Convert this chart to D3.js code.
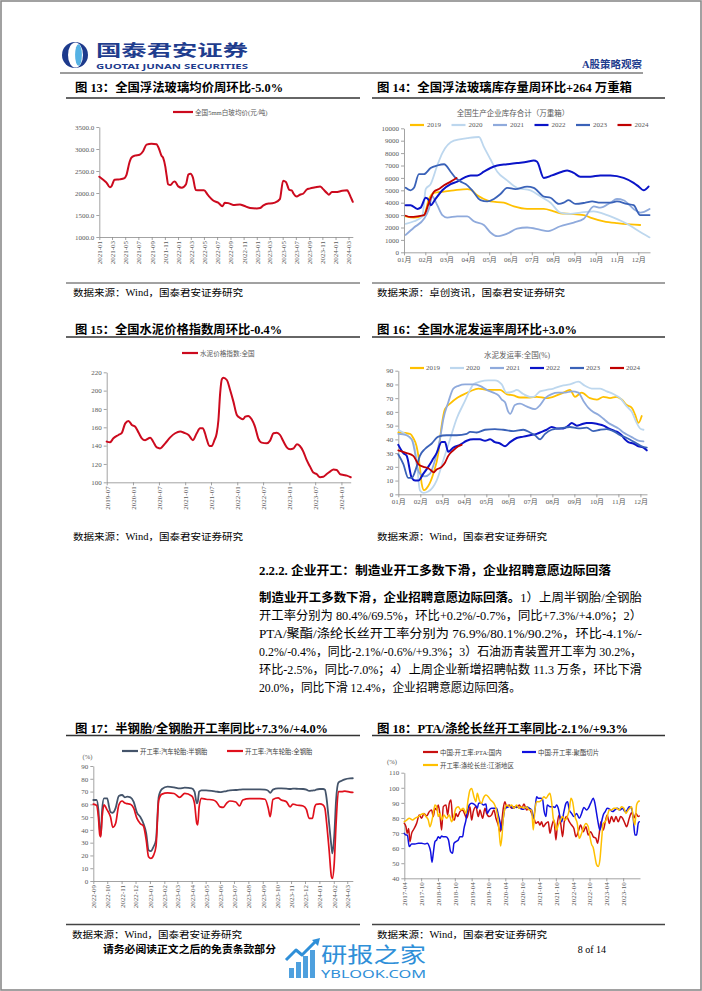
<!DOCTYPE html>
<html><head><meta charset="utf-8">
<script src="https://cdn.jsdelivr.net/npm/d3@7"></script>
<style>body{margin:0;background:#fff}svg{display:block}</style>
</head><body>
<script>
// ---------------- DATA ----------------
// Fig 13 : 全国5mm白玻均价(元/吨)
const glassDates = ["2021-01-01","2021-01-19","2021-02-04","2021-02-19","2021-02-26","2021-03-13","2021-04-05","2021-04-28","2021-05-06","2021-05-21","2021-05-29","2021-06-14","2021-07-07","2021-07-23","2021-08-08","2021-08-31","2021-09-23","2021-10-05","2021-10-16","2021-10-24","2021-11-03","2021-11-09","2021-11-16","2021-11-27","2021-12-10","2021-12-17","2022-01-02","2022-01-18","2022-02-07","2022-02-18","2022-02-28","2022-03-11","2022-03-24","2022-04-12","2022-05-01","2022-05-20","2022-06-13","2022-07-06","2022-07-26","2022-08-06","2022-08-22","2022-09-02","2022-09-14","2022-10-15","2022-11-02","2022-12-01","2023-01-01","2023-01-17","2023-02-01","2023-02-25","2023-03-03","2023-03-26","2023-04-18","2023-05-03","2023-05-16","2023-06-01","2023-06-12","2023-06-20","2023-07-05","2023-07-20","2023-08-05","2023-08-21","2023-09-02","2023-09-29","2023-10-22","2023-11-02","2023-11-22","2023-12-01","2023-12-15","2024-01-02","2024-02-01","2024-02-24","2024-03-03","2024-03-12","2024-03-21"];
const glassPrice = [2370,2300,2230,2130,2150,2300,2310,2340,2400,2700,2800,2850,2870,2950,3100,3120,3110,3000,2850,2800,2600,2400,2200,2180,2250,2260,2150,2120,2200,2420,2440,2350,2070,2060,2060,1950,1830,1780,1700,1780,1770,1750,1730,1740,1710,1660,1650,1660,1720,1760,1760,1780,1860,2280,2250,2070,2060,1990,1920,1960,1990,2080,2100,2130,2150,2100,2000,1960,2020,2020,2050,2060,2000,1900,1800];

// Fig 14 : 全国生产企业库存合计(万重箱)  [month of year (0 = Jan 1), value]
const monthLabels = ["01月","02月","03月","04月","05月","06月","07月","08月","09月","10月","11月","12月"];
const inv2019 = [[0.08,2900],[0.47,2800],[0.94,3000],[1.17,4300],[1.41,4800],[1.88,4900],[2.34,5000],[2.97,5100],[3.13,5050],[3.44,4600],[3.75,4300],[4.06,4100],[4.69,4000],[5.16,3700],[5.78,3500],[6.56,3500],[7.03,3300],[7.34,3150],[7.81,3100],[8.44,3000],[8.75,2800],[9.38,2500],[10.0,2350],[10.63,2250],[11.09,2200]];
const inv2020 = [[0.08,2300],[0.47,2500],[0.86,2900],[1.02,5100],[1.25,5500],[1.56,7000],[1.80,8000],[2.34,9000],[2.97,9200],[3.52,9300],[3.75,8500],[4.06,7500],[4.38,6500],[4.84,5800],[5.31,5200],[5.94,5000],[6.41,4500],[6.88,4000],[7.34,3200],[7.81,3100],[8.28,3200],[8.91,3300],[9.38,3100],[9.84,2800],[10.47,2300],[10.94,1800],[11.53,1200]];
const inv2021 = [[0.08,1400],[0.47,2000],[0.94,2700],[1.17,3500],[1.33,4500],[1.56,3800],[1.80,3000],[2.03,2800],[2.50,2900],[2.97,2900],[3.28,2500],[3.75,2200],[4.06,1600],[4.38,1300],[4.84,1500],[5.31,1900],[5.78,2000],[6.41,1800],[6.72,1700],[7.34,2100],[7.97,2400],[8.44,2700],[8.91,3700],[9.22,3600],[9.69,4000],[10.0,4300],[10.31,4200],[10.78,3500],[11.09,3200],[11.53,3500]];
const inv2022 = [[0.08,3800],[0.31,3800],[0.63,3500],[0.78,3600],[1.02,4400],[1.17,4200],[1.25,3800],[1.48,4300],[1.80,5000],[2.19,5500],[2.50,5700],[2.81,6000],[3.13,6200],[3.44,6200],[3.75,6500],[4.06,6800],[4.38,7000],[4.84,7100],[5.31,7200],[5.78,7300],[6.09,7400],[6.25,7300],[6.56,6000],[6.95,6200],[7.42,6500],[7.66,6600],[7.97,6400],[8.28,6100],[8.75,6100],[9.22,6200],[9.69,6200],[10.31,6000],[10.78,5600],[11.02,5300],[11.25,5000],[11.48,5300]];
const inv2023 = [[0.08,5200],[0.31,5000],[0.47,5200],[0.70,6300],[0.94,6300],[1.25,6800],[1.56,7000],[1.88,7100],[2.19,6500],[2.42,6000],[2.66,5700],[2.89,5500],[3.20,5000],[3.59,4200],[3.91,4100],[4.22,4300],[4.53,4700],[4.84,5200],[5.23,5100],[5.78,5300],[6.09,5200],[6.56,4500],[6.88,4400],[7.27,3900],[7.50,4000],[7.73,4200],[8.05,3900],[8.52,4000],[8.83,4100],[9.22,4000],[9.69,4000],[10.0,4100],[10.47,3900],[10.78,3800],[11.09,3000],[11.53,3000]];
const inv2024 = [[0.08,2950],[0.31,2850],[0.63,2900],[0.94,3000],[1.17,4000],[1.41,4900],[1.64,5100],[1.88,5400],[2.19,5700],[2.47,6000]];

// Fig 15 : 水泥价格指数:全国
const cementDates = ["2019-07-01","2019-07-24","2019-08-17","2019-09-21","2019-10-15","2019-11-07","2019-12-01","2019-12-24","2020-01-17","2020-02-10","2020-03-03","2020-03-26","2020-05-01","2020-05-23","2020-06-16","2020-07-09","2020-08-14","2020-09-18","2020-10-23","2020-11-27","2020-12-25","2021-01-25","2021-02-24","2021-03-23","2021-04-15","2021-05-04","2021-05-20","2021-06-01","2021-06-20","2021-07-06","2021-07-25","2021-08-10","2021-08-22","2021-09-03","2021-09-15","2021-09-26","2021-10-20","2021-11-12","2021-12-05","2021-12-29","2022-01-22","2022-02-10","2022-02-26","2022-03-19","2022-04-12","2022-05-05","2022-05-28","2022-06-21","2022-07-26","2022-08-19","2022-09-12","2022-10-05","2022-10-28","2022-11-21","2022-12-14","2023-01-07","2023-01-31","2023-02-23","2023-03-16","2023-04-09","2023-05-02","2023-05-26","2023-06-18","2023-07-11","2023-08-04","2023-08-27","2023-09-20","2023-10-13","2023-11-06","2023-11-29","2023-12-22","2024-01-15","2024-02-08","2024-03-06"];
const cementIndex = [144.4,143.6,148,151.6,154,164,167,162.5,160.7,154,148,146,148.7,144,138,137,142.5,149,153.5,155.3,154,151.6,146,153.5,159,159,153.5,147,139.6,139.6,146,153.5,168,197,212.4,214,211.6,200.7,188,173.5,170,168.7,171.6,172.4,168.7,160.7,148,143.3,142.5,145.5,153.5,154,151.6,144.4,138.2,136,137,141.5,139.6,133.5,124.4,117.1,110.6,109,105.5,106,109,111.6,114,113.5,109,108,107.3,105.5];

// Fig 16 : 水泥发运率:全国(%)  [month of year, value]
const ship2019 = [[0,45],[0.53,44],[0.68,41],[0.83,35],[0.98,20],[1.06,8],[1.17,3],[1.36,6],[1.59,15],[1.82,30],[1.97,50],[2.12,62],[2.35,66],[2.65,70],[2.88,72],[3.26,75],[3.64,77],[4.02,76],[4.39,76],[4.62,76],[4.92,73],[5.23,72],[5.53,70.5],[5.98,70.5],[6.29,71],[6.74,70],[7.2,72],[7.5,74],[7.8,76],[8.03,71],[8.33,74],[8.71,70],[9.02,69],[9.32,71],[9.62,70],[9.92,71],[10.15,69],[10.38,65],[10.61,63],[10.76,58],[10.91,52],[11.06,57]];
const ship2020 = [[0,47],[0.38,43],[0.68,38],[0.83,25],[0.98,3],[1.14,1],[1.36,2],[1.74,10],[2.05,25],[2.35,40],[2.65,55],[3.03,68],[3.26,76],[3.41,80],[3.71,82],[4.09,83],[4.39,83],[4.7,80],[4.92,74],[5.23,75],[5.38,76],[5.68,73],[5.98,71],[6.14,71],[6.44,75],[6.74,76],[7.05,77],[7.42,79],[7.8,80],[8.18,82],[8.48,79],[8.79,77],[9.17,77],[9.47,75],[9.77,73],[10.08,70],[10.38,64],[10.61,60],[10.83,52],[10.98,48],[11.14,47]];
const ship2021 = [[0,44],[0.38,43],[0.61,40],[0.76,30],[0.86,20],[0.98,15],[1.21,13],[1.44,15],[1.67,25],[1.89,40],[2.05,55],[2.27,67],[2.5,77],[2.73,79],[3.03,80],[3.41,80],[3.71,79],[4.02,76],[4.32,74],[4.55,72],[4.7,69],[4.85,67],[5.0,60],[5.08,58.5],[5.3,65],[5.53,66],[5.83,64],[6.21,62],[6.44,65],[6.67,70],[6.97,73],[7.27,74],[7.58,74],[7.88,75],[8.18,74],[8.41,68],[8.64,63],[8.86,60],[9.09,58],[9.32,55],[9.55,52],[9.77,50],[10.0,48],[10.23,45],[10.45,43],[10.68,41],[10.91,39],[11.14,38.5]];
const ship2022 = [[0,36],[0.23,30],[0.38,28],[0.61,12],[0.76,10],[0.91,10],[1.14,15],[1.36,20],[1.59,26],[1.74,30],[1.97,38],[2.12,38],[2.27,31],[2.5,34],[2.8,36],[3.11,39],[3.41,40],[3.71,40],[3.94,39],[4.17,40],[4.39,38],[4.62,37],[4.85,35],[5.08,38],[5.38,41],[5.68,42],[5.98,43],[6.29,44],[6.44,45],[6.74,47],[6.97,49],[7.2,48],[7.5,48],[7.73,50],[7.88,52],[8.11,50],[8.33,51],[8.56,52],[8.79,52],[9.09,51],[9.32,50],[9.55,48],[9.85,46],[10.0,45],[10.15,43],[10.3,40],[10.45,38],[10.68,37],[10.91,35],[11.14,34],[11.29,32]];
const ship2023 = [[0,29],[0.23,22],[0.45,12],[0.61,12],[0.83,20],[0.98,28],[1.21,33],[1.52,37],[1.82,42],[2.2,43],[2.65,43],[3.11,44],[3.26,45.5],[3.56,45],[3.94,47],[4.39,47.5],[4.77,47],[5.23,46],[5.68,47],[5.98,45],[6.21,43],[6.44,40],[6.67,44],[6.97,47],[7.35,48],[7.8,49],[8.18,48],[8.56,48.5],[8.86,46],[9.17,47],[9.47,47.5],[9.77,46],[10.08,43],[10.38,41],[10.61,39],[10.83,37],[11.06,35],[11.29,34]];
const ship2024 = [[0,32],[0.38,30],[0.68,28],[0.91,22],[1.14,20],[1.36,19],[1.52,17],[1.59,16],[1.74,18],[1.97,20],[2.12,23],[2.27,28],[2.5,32],[2.73,35],[2.88,36]];

// Fig 17 : 开工率:汽车轮胎
const tireDates = ["2022-09-01","2022-09-08","2022-09-12","2022-09-15","2022-09-17","2022-09-20","2022-09-24","2022-10-01","2022-10-05","2022-10-08","2022-10-13","2022-10-19","2022-10-26","2022-11-02","2022-11-08","2022-11-13","2022-11-20","2022-11-27","2022-12-04","2022-12-11","2022-12-18","2022-12-24","2022-12-29","2023-01-03","2023-01-09","2023-01-14","2023-01-20","2023-01-27","2023-02-08","2023-02-22","2023-03-06","2023-03-17","2023-04-01","2023-04-07","2023-04-12","2023-04-14","2023-04-17","2023-04-22","2023-05-02","2023-05-17","2023-05-24","2023-06-01","2023-06-08","2023-06-15","2023-06-22","2023-07-05","2023-07-13","2023-07-20","2023-08-04","2023-08-26","2023-09-06","2023-09-13","2023-09-17","2023-09-23","2023-10-04","2023-10-11","2023-10-22","2023-10-30","2023-11-05","2023-11-12","2023-11-27","2023-12-04","2023-12-10","2023-12-17","2023-12-22","2023-12-25","2024-01-02","2024-01-09","2024-01-13","2024-01-16","2024-01-22","2024-01-27","2024-01-29","2024-02-02","2024-02-06","2024-02-11","2024-02-18","2024-02-25","2024-03-07","2024-03-13"];
const tireSemi = [63.4,63.4,55.5,40,35.4,55.5,64.7,64.7,58,54,53.4,57,66.5,67.3,65.5,66,65.5,62,53.5,50.3,45,37.3,24.2,23.4,27,32,66,72,73.8,73.3,72.5,73,72.5,70,60.8,62,70,71,71,70.4,70,69.6,70,70.4,71,71.2,71.5,71.7,71.7,71.7,71.5,70.5,69,71.5,72.5,72.5,72.3,72,72.3,72.2,72,71.5,70.5,70.8,71,71.5,72,72,71.5,66,45,27,21.6,35,63.4,77,78.5,79.6,80.3,80.4];
const tireFull = [60.2,59.2,50,36,34.6,50,59.5,55.5,53,50.3,42,45,59.5,62.6,61,60.5,60,57,49,45,43,32,19,17.7,20.3,27,63.4,68,69,68.5,65.5,68.5,66.5,60.8,45,44,58,64.7,64,63.4,62,58,57.6,60.8,62.6,61.8,58.7,63.4,64.4,64.4,64,56.8,50.3,63.8,65,63.4,62,58,60.2,59.5,58.7,56,49,49,58,60,60.3,59.5,56.8,47.7,24.2,3.3,2,13.8,45,70,70,70.4,69.6,69.4];

// Fig 18 : [months since 2017-04, value]
const ptaLabels = ["2017-04","2017-10","2018-04","2018-10","2019-04","2019-10","2020-04","2020-10","2021-04","2021-10","2022-04","2022-10","2023-04","2023-10"];
const ptaRate = [[0,76.4],[0.59,74.2],[1.07,69.8],[1.54,73],[2.02,64.3],[2.61,69.8],[3.21,72],[4.39,76.4],[5.34,82],[6.18,79.8],[7.01,83],[7.96,81.3],[8.91,84.2],[9.74,85.3],[10.33,80.9],[10.93,86.4],[11.52,85.3],[12.11,88.6],[12.71,82],[13.3,72],[13.9,87.5],[14.85,88.6],[15.44,82],[16.03,89.7],[16.63,91.9],[17.22,79.8],[17.81,78.6],[18.41,83],[19.0,80.9],[19.83,84.2],[20.78,85.3],[21.62,82],[22.21,79.8],[22.8,83],[23.4,87.5],[23.99,78.6],[24.58,84.2],[25.53,87.5],[26.37,80.9],[26.96,85.3],[27.91,79.8],[28.74,86.4],[29.33,83],[30.28,80.9],[31.12,82],[31.95,85.3],[32.66,79.8],[33.49,75.3],[34.09,70.9],[34.68,76.4],[35.27,86.4],[35.87,90.8],[36.46,87.5],[37.41,88.6],[38.24,86.4],[39.07,87.5],[40.02,87],[40.97,88.6],[41.81,86.4],[42.64,89.2],[43.59,85.3],[44.54,86.4],[45.37,83],[46.2,79.8],[46.91,76.4],[47.74,77.5],[48.34,75.3],[48.93,77.5],[49.52,74.2],[50.48,76.4],[51.31,77.5],[51.9,69.8],[52.49,74.2],[53.33,78.6],[54.04,65.4],[54.63,77.5],[55.23,82],[55.82,75.3],[56.41,67.6],[57.01,77.5],[57.84,80.9],[58.79,77.5],[59.62,75.3],[60.45,73],[61.16,67.6],[61.99,70.9],[62.83,75.3],[63.78,70.9],[64.73,74.2],[65.56,68.7],[66.39,70.9],[67.34,67.6],[68.29,66.5],[68.88,63.2],[69.48,69.8],[70.07,77.5],[70.9,72],[71.62,77.5],[72.33,82],[73.04,76.4],[73.87,80.9],[74.7,77.5],[75.42,80.9],[76.25,77.5],[77.08,80.9],[77.79,79.8],[78.62,76.4],[79.22,74.2],[80.17,79.8],[81.0,83.5],[81.83,79.8],[82.54,83],[83.37,80.9],[83.73,81.3]];
const polyRate = [[0,69.8],[0.59,68.7],[1.07,68.7],[1.78,61],[2.61,62.8],[3.8,62.8],[4.99,63.2],[6.18,63.2],[7.36,62.8],[8.19,63.2],[8.91,61],[9.38,57.7],[9.86,50.6],[10.33,56.6],[10.93,64.3],[11.52,65.4],[12.11,67.6],[12.71,66.5],[13.3,68.1],[13.9,67.6],[14.85,67.6],[15.68,65.8],[16.51,57.7],[17.22,56.6],[17.7,63.2],[18.41,64.3],[19.24,65.4],[19.83,67.6],[20.78,67.6],[21.26,73],[21.97,78.6],[22.56,85.3],[23.16,88.6],[23.99,89.7],[24.82,89.2],[25.53,87.9],[26.01,86.4],[26.48,89.7],[27.2,90.1],[28.15,88.6],[29.1,89.2],[29.57,83],[30.28,85.3],[31.12,86.4],[31.95,86.4],[32.9,86.4],[33.49,82],[34.09,77.5],[34.68,72],[35.27,79.8],[35.87,86.4],[36.7,87],[37.65,87.9],[38.83,86.4],[40.02,87.5],[41.21,86.4],[42.4,85.7],[43.59,87.5],[44.54,86.4],[45.37,85.3],[45.96,79.8],[46.55,85.3],[47.15,94.1],[47.74,93],[48.57,93],[49.29,92.3],[49.76,85.3],[50.48,80.9],[50.95,88.6],[51.9,87.5],[52.85,87.5],[53.68,87],[54.27,88.6],[54.87,86.4],[55.46,80.9],[56.05,77.5],[56.89,84.2],[57.6,89.7],[58.19,90.8],[58.79,85.3],[59.62,83],[60.45,80.9],[61.4,83],[62.35,79.8],[63.18,83],[64.01,87],[64.96,85.3],[65.56,86.4],[66.39,89.7],[67.34,93],[67.93,89.7],[68.53,83],[69.12,76.4],[69.71,72],[70.31,77.5],[70.9,82],[71.62,84.2],[72.33,86.4],[73.28,85.7],[74.23,84.2],[75.06,85.3],[75.89,86.4],[76.84,85.3],[77.79,86.4],[78.62,84.2],[79.45,85.3],[80.17,87.5],[81.0,86.4],[81.59,79.8],[82.19,68.7],[82.78,68.7],[83.37,76.4],[83.73,77.5]];
const fdyRate = [[0,77.5],[0.83,78.6],[1.78,79.8],[2.97,78.6],[3.8,79.8],[4.99,80.9],[5.82,82],[6.77,83],[7.72,80.9],[8.55,78.6],[9.14,74.2],[9.74,77.5],[10.33,83],[10.93,88.6],[11.52,87.5],[12.11,80.9],[12.71,83],[13.3,78.6],[14.13,82],[15.08,79.8],[16.03,82],[16.86,77.5],[17.46,79.8],[18.41,86.4],[19.24,87.5],[20.07,85.3],[21.02,86.4],[21.97,83],[22.8,93],[23.4,98.5],[23.99,99.6],[24.82,94.1],[25.53,90.8],[26.01,96.3],[26.72,91.9],[27.55,89.7],[28.15,93],[29.1,95.2],[29.93,94.1],[30.76,91.9],[31.47,90.8],[31.95,89.7],[32.66,86.4],[33.25,80.9],[33.85,69.8],[34.32,61.4],[34.8,67.6],[35.27,79.8],[35.87,86.4],[36.46,88.6],[37.41,87.5],[38.24,88.6],[39.07,86.4],[40.02,88.6],[40.97,86.4],[41.81,87.5],[42.64,86.4],[43.59,87.5],[44.54,85.3],[45.37,85.3],[45.96,72],[46.55,85.3],[47.15,90.8],[48.1,90.8],[48.93,91.9],[49.76,94.1],[50.48,93],[51.31,95.2],[51.9,96.3],[52.49,90.8],[53.09,79.8],[53.68,76.4],[54.27,72],[54.87,75.3],[55.46,77.5],[56.29,80.9],[57.24,78.6],[58.08,80.9],[58.79,85.3],[59.38,93],[59.98,90.8],[60.81,80.9],[61.64,76.4],[62.35,66.5],[63.18,69.8],[63.78,73],[64.73,76.4],[65.56,74.2],[66.15,67.6],[66.75,62.5],[67.34,60.3],[67.93,54.6],[68.53,49.1],[69.12,47.9],[69.71,52.2],[70.31,65.4],[70.9,76.4],[71.62,77.5],[72.33,80.9],[73.04,85.3],[73.87,85.3],[74.7,86.4],[75.65,86.4],[76.6,85.3],[77.43,87.5],[78.27,86.4],[78.98,83],[79.81,85.3],[80.4,86.4],[81.0,87.5],[81.59,79.8],[82.19,75.3],[82.78,88.6],[83.37,90.8],[83.73,91.2]];

const yearNames = ["2019","2020","2021","2022","2023","2024"];

// ---------------- DRAWING ----------------
const W = 702, H = 991;
const SERIF = '"Liberation Serif","Noto Sans CJK SC",serif';
const SANS = '"Noto Sans CJK SC","Noto Sans",sans-serif';
const svg = d3.select("body").append("svg").attr("width", W).attr("height", H);
const parse = d3.timeParse("%Y-%m-%d");

function T(x, y, s, o = {}) {
  const t = svg.append("text").attr("x", x).attr("y", y).text(s)
    .attr("font-family", o.ff || SERIF).attr("font-size", o.fs || 10)
    .attr("fill", o.fill || "#000").attr("font-weight", o.fw || "normal")
    .attr("text-anchor", o.anchor || "start").attr("dominant-baseline", "central");
  if (o.len) t.attr("textLength", o.len).attr("lengthAdjust", "spacingAndGlyphs");
  return t;
}
function L(x1, y1, x2, y2, c, w) {
  svg.append("line").attr("x1", x1).attr("y1", y1).attr("x2", x2).attr("y2", y2)
    .attr("stroke", c).attr("stroke-width", w);
}

// page frame
svg.append("rect").attr("x", 1).attr("y", 1).attr("width", W - 2).attr("height", H - 2)
  .attr("fill", "none").attr("stroke", "#8a8a8a").attr("stroke-width", 1.6);

// header logo
svg.append("circle").attr("cx", 75).attr("cy", 55).attr("r", 13).attr("fill", "#1d3a8c");
svg.append("ellipse").attr("cx", 75.5).attr("cy", 55).attr("rx", 7.5).attr("ry", 12.6).attr("fill", "#fff");
svg.append("ellipse").attr("cx", 78.5).attr("cy", 55).attr("rx", 3.4).attr("ry", 10.8).attr("fill", "#55b2e4");
T(96, 49, "国泰君安证券", {ff: SANS, fs: 15.5, fw: "bold", fill: "#1f3d8e", len: 152});
T(96, 66.5, "GUOTAI JUNAN SECURITIES", {ff: '"Noto Sans","DejaVu Sans",sans-serif', fs: 7, fw: "bold", fill: "#1f3d8e", len: 152});
T(642, 64, "A股策略观察", {fs: 10.5, fw: "bold", fill: "#1f3d8e", anchor: "end"});
L(60, 73, 643, 73, "#3a3a3a", 1);

// figure titles + underlines
function title(x, y, s, len) { T(x, y, s, {fs: 12, fw: "bold", len: len}); }
title(75, 88, "图 13：全国浮法玻璃均价周环比-5.0%", 208);
title(377, 88, "图 14：全国浮法玻璃库存量周环比+264 万重箱", 255);
L(66, 98, 360, 98, "#333", 1.4); L(372, 98, 665, 98, "#333", 1.4);
title(75, 329.5, "图 15：全国水泥价格指数周环比-0.4%", 207);
title(377, 329.5, "图 16：全国水泥发运率周环比+3.0%", 200);
L(66, 337, 360, 337, "#333", 1.4); L(372, 337, 665, 337, "#333", 1.4);
title(75, 729, "图 17：半钢胎/全钢胎开工率同比+7.3%/+4.0%", 253);
title(377, 729, "图 18：PTA/涤纶长丝开工率同比-2.1%/+9.3%", 251);
L(66, 735.5, 360, 735.5, "#333", 1.4); L(372, 735.5, 665, 735.5, "#333", 1.4);

// sources
L(66, 283, 360, 283, "#444", 1); L(372, 283, 665, 283, "#444", 1);
T(73, 293, "数据来源：Wind，国泰君安证券研究", {fs: 9.5, len: 170});
T(377, 293, "数据来源：卓创资讯，国泰君安证券研究", {fs: 9.5, len: 188});
T(73, 537, "数据来源：Wind，国泰君安证券研究", {fs: 9.5, len: 170});
T(377, 537, "数据来源：Wind，国泰君安证券研究", {fs: 9.5, len: 170});
L(66, 924.5, 360, 924.5, "#444", 1.4); L(372, 924.5, 665, 924.5, "#444", 1.4);
T(72, 935, "数据来源：Wind，国泰君安证券研究", {fs: 9.5, len: 170});
T(377, 935, "数据来源：Wind，国泰君安证券研究", {fs: 9.5, len: 170});

// generic chart helper
function chart(c) {
  const g = svg.append("g");
  const x = c.x, y = c.y;
  const x0 = x.range()[0], y0 = y.range()[0];
  const ya = g.append("g").attr("transform", `translate(${x0},0)`)
    .call(d3.axisLeft(y).tickValues(c.yTicks).tickFormat(c.yFmt).tickSize(3).tickSizeOuter(0));
  const xa = g.append("g").attr("transform", `translate(0,${y0})`)
    .call(d3.axisBottom(x).tickValues(c.xTicks).tickFormat(c.xFmt).tickSize(3).tickSizeOuter(0));
  [ya, xa].forEach(a => {
    a.selectAll("path,line").attr("stroke", "#8c8c8c").attr("stroke-width", 0.8);
    a.selectAll("text").attr("font-family", SERIF).attr("font-size", 7).attr("fill", "#595959");
  });
  ya.selectAll("text").attr("x", -5);
  if (c.rotate) {
    xa.selectAll("text").attr("transform", "rotate(-90)").attr("text-anchor", "end")
      .attr("x", -4).attr("y", 0).attr("dy", "0.35em");
  } else {
    xa.selectAll("text").attr("y", 5).attr("dy", "0.71em");
  }
  c.series.forEach(s => {
    g.append("path").datum(s.data)
      .attr("d", d3.line().x(s.fx).y(s.fy).curve(d3.curveMonotoneX))
      .attr("fill", "none").attr("stroke", s.color).attr("stroke-width", s.w || 1.8)
      .attr("stroke-linejoin", "round").attr("stroke-linecap", "round");
  });
}
function legLine(x1, x2, y, color, w) { L(x1, y, x2, y, color, w || 2.2); }
const LEG = {fs: 6.6, fill: "#595959"};

// ---- Fig 13 ----
{
  const dates = glassDates.map(parse);
  const x = d3.scaleTime().domain([parse("2021-01-01"), parse("2024-03-21")]).range([99.3, 352.8]);
  const y = d3.scaleLinear().domain([1000, 3500]).range([237, 127]);
  chart({x, y, yTicks: d3.range(1000, 3501, 500), yFmt: d3.format(".1f"),
    xTicks: d3.timeMonth.every(2).range(parse("2021-01-01"), parse("2024-03-22")), xFmt: d3.timeFormat("%Y-%m"),
    rotate: true,
    series: [{data: d3.range(dates.length), fx: i => x(dates[i]), fy: i => y(glassPrice[i]), color: "#cc0a1e", w: 2}]});
  legLine(173, 193, 112, "#cc0a1e");
  T(195, 112, "全国5mm白玻均价(元/吨)", LEG);
}

// ---- Fig 14 ----
{
  const x = d3.scaleLinear().domain([0, 11.55]).range([404, 650]);
  const y = d3.scaleLinear().domain([0, 10000]).range([252.3, 128.3]);
  const cols = ["#ffc000", "#bdd7ee", "#8faadc", "#0a14c8", "#3a62b8", "#c00000"];
  const data = [inv2019, inv2020, inv2021, inv2022, inv2023, inv2024];
  chart({x, y, yTicks: d3.range(0, 10001, 1000), yFmt: d3.format("d"),
    xTicks: d3.range(12), xFmt: i => monthLabels[i],
    series: data.map((d, i) => ({data: d, fx: p => x(p[0]), fy: p => y(p[1]), color: cols[i], w: i === 3 ? 2 : 1.8}))});
  T(513, 113, "全国生产企业库存合计（万重箱）", {fs: 7.5, fill: "#595959", anchor: "middle"});
  yearNames.forEach((nm, i) => {
    const lx = 410 + i * 41.5;
    legLine(lx, lx + 14, 125, cols[i]);
    T(lx + 17, 125, nm, {fs: 7, fill: "#595959"});
  });
}

// ---- Fig 15 ----
{
  const dates = cementDates.map(parse);
  const x = d3.scaleTime().domain([parse("2019-07-01"), parse("2024-03-06")]).range([106.7, 350.7]);
  const y = d3.scaleLinear().domain([100, 220]).range([482.3, 372.3]);
  chart({x, y, yTicks: d3.range(100, 221, 20), yFmt: d3.format("d"),
    xTicks: d3.timeMonth.every(6).range(parse("2019-07-01"), parse("2024-03-07")), xFmt: d3.timeFormat("%Y-%m"),
    rotate: true,
    series: [{data: d3.range(dates.length), fx: i => x(dates[i]), fy: i => y(cementIndex[i]), color: "#cc0a1e", w: 2}]});
  legLine(182, 198, 353, "#cc0a1e");
  T(200, 353, "水泥价格指数:全国", LEG);
}

// ---- Fig 16 ----
{
  const x = d3.scaleLinear().domain([0, 11.3]).range([398.3, 647]);
  const y = d3.scaleLinear().domain([0, 90]).range([494.3, 370.7]);
  const cols = ["#ffc000", "#bdd7ee", "#8faadc", "#0a14c8", "#3a62b8", "#c00000"];
  const data = [ship2019, ship2020, ship2021, ship2022, ship2023, ship2024];
  chart({x, y, yTicks: d3.range(0, 91, 10), yFmt: d3.format("d"),
    xTicks: d3.range(12), xFmt: i => monthLabels[i],
    series: data.map((d, i) => ({data: d, fx: p => x(p[0]), fy: p => y(p[1]), color: cols[i], w: i === 3 ? 2 : 1.8}))});
  T(517, 355, "水泥发运率:全国(%)", {fs: 7.5, fill: "#595959", anchor: "middle"});
  yearNames.forEach((nm, i) => {
    const lx = 410 + i * 40;
    legLine(lx, lx + 14, 368, cols[i]);
    T(lx + 16, 368, nm, {fs: 7, fill: "#595959"});
  });
}

// ---- paragraph ----
{
  const LX = 259, RX = 642;
  T(LX, 571, "2.2.2.   企业开工：制造业开工多数下滑，企业招聘意愿边际回落", {fs: 12.5, fw: "bold", len: 352});
  const ys = [597.5, 615.6, 633.7, 651.8, 669.9, 688];
  const t1 = T(LX, ys[0], "", {fs: 12, len: RX - LX});
  t1.append("tspan").attr("font-weight", "bold").text("制造业开工多数下滑，企业招聘意愿边际回落。");
  t1.append("tspan").text("1）上周半钢胎/全钢胎");
  const lines = [
    "开工率分别为 80.4%/69.5%，环比+0.2%/-0.7%，同比+7.3%/+4.0%；2）",
    "PTA/聚酯/涤纶长丝开工率分别为 76.9%/80.1%/90.2%，环比-4.1%/-",
    "0.2%/-0.4%，同比-2.1%/-0.6%/+9.3%；3）石油沥青装置开工率为 30.2%，",
    "环比-2.5%，同比-7.0%；4）上周企业新增招聘帖数 11.3 万条，环比下滑"
  ];
  lines.forEach((s, i) => T(LX, ys[i + 1], s, {fs: 12, len: RX - LX}));
  T(LX, ys[5], "20.0%，同比下滑 12.4%，企业招聘意愿边际回落。", {fs: 12, len: 262});
}

// ---- Fig 17 ----
{
  const dates = tireDates.map(parse);
  const x = d3.scaleTime().domain([parse("2022-09-01"), parse("2024-03-13")]).range([93.3, 352.8]);
  const y = d3.scaleLinear().domain([0, 90]).range([881, 766]);
  const idx = d3.range(dates.length);
  chart({x, y, yTicks: d3.range(0, 91, 10), yFmt: d3.format("d"),
    xTicks: d3.timeMonth.every(1).range(parse("2022-09-01"), parse("2024-03-14")), xFmt: d3.timeFormat("%Y-%m"),
    rotate: true,
    series: [
      {data: idx, fx: i => x(dates[i]), fy: i => y(tireSemi[i]), color: "#44546a", w: 1.8},
      {data: idx, fx: i => x(dates[i]), fy: i => y(tireFull[i]), color: "#e0101c", w: 1.7}]});
  legLine(122, 138, 751, "#44546a");
  T(140, 751, "开工率:汽车轮胎:半钢胎", {fs: 6.4, fill: "#404040"});
  legLine(227, 243, 751, "#e0101c");
  T(245, 751, "开工率:汽车轮胎:全钢胎", {fs: 6.4, fill: "#404040"});
  T(87.5, 756, "(%)", {fs: 6.6, fill: "#595959", anchor: "middle"});
}

// ---- Fig 18 ----
{
  const x = d3.scaleLinear().domain([0, 84]).range([404.3, 640]);
  const y = d3.scaleLinear().domain([40, 110]).range([878.3, 772.7]);
  chart({x, y, yTicks: d3.range(40, 111, 10), yFmt: d3.format("d"),
    xTicks: d3.range(0, 84, 6), xFmt: m => ptaLabels[m / 6],
    rotate: true,
    series: [
      {data: ptaRate, fx: p => x(p[0]), fy: p => y(p[1]), color: "#c81010", w: 1.5},
      {data: polyRate, fx: p => x(p[0]), fy: p => y(p[1]), color: "#1010e0", w: 1.5},
      {data: fdyRate, fx: p => x(p[0]), fy: p => y(p[1]), color: "#ffc000", w: 1.5}]});
  legLine(423, 438, 752, "#c81010");
  T(440, 752, "中国:开工率:PTA:国内", {fs: 6.4, fill: "#404040"});
  legLine(522, 536, 752, "#1010e0");
  T(538, 752, "中国:开工率:聚酯切片", {fs: 6.4, fill: "#404040"});
  legLine(423, 438, 765, "#ffc000");
  T(440, 765, "开工率:涤纶长丝:江浙地区", {fs: 6.4, fill: "#404040"});
  T(392, 761, "(%)", {fs: 6.6, fill: "#595959", anchor: "middle"});
}

// ---- footer ----
T(103, 949, "请务必阅读正文之后的免责条款部分", {fs: 10.5, fw: "bold", len: 173});
T(606, 949, "8 of 14", {fs: 10, anchor: "end"});
// watermark
{
  const wm = "#2f8fd8";
  [[289, 968, 5, 10], [296, 962, 5, 16], [303, 956, 5, 22], [310, 950, 5, 28]].forEach(b =>
    svg.append("rect").attr("x", b[0]).attr("y", b[1]).attr("width", b[2]).attr("height", b[3]).attr("fill", wm).attr("opacity", 0.85));
  svg.append("polyline").attr("points", "286,960 296,950 302,955 315,942").attr("fill", "none")
    .attr("stroke", wm).attr("stroke-width", 3).attr("stroke-linejoin", "round");
  svg.append("path").attr("d", "M312,940 L320,938 L318,946 Z").attr("fill", wm);
  T(321, 952.5, "研报之家", {ff: SANS, fs: 21, fill: wm, len: 105});
  T(321, 973.5, "YBLOOK.COM", {ff: '"Noto Sans","DejaVu Sans",sans-serif', fs: 11, fill: wm, len: 105});
}
</script>
</body></html>
